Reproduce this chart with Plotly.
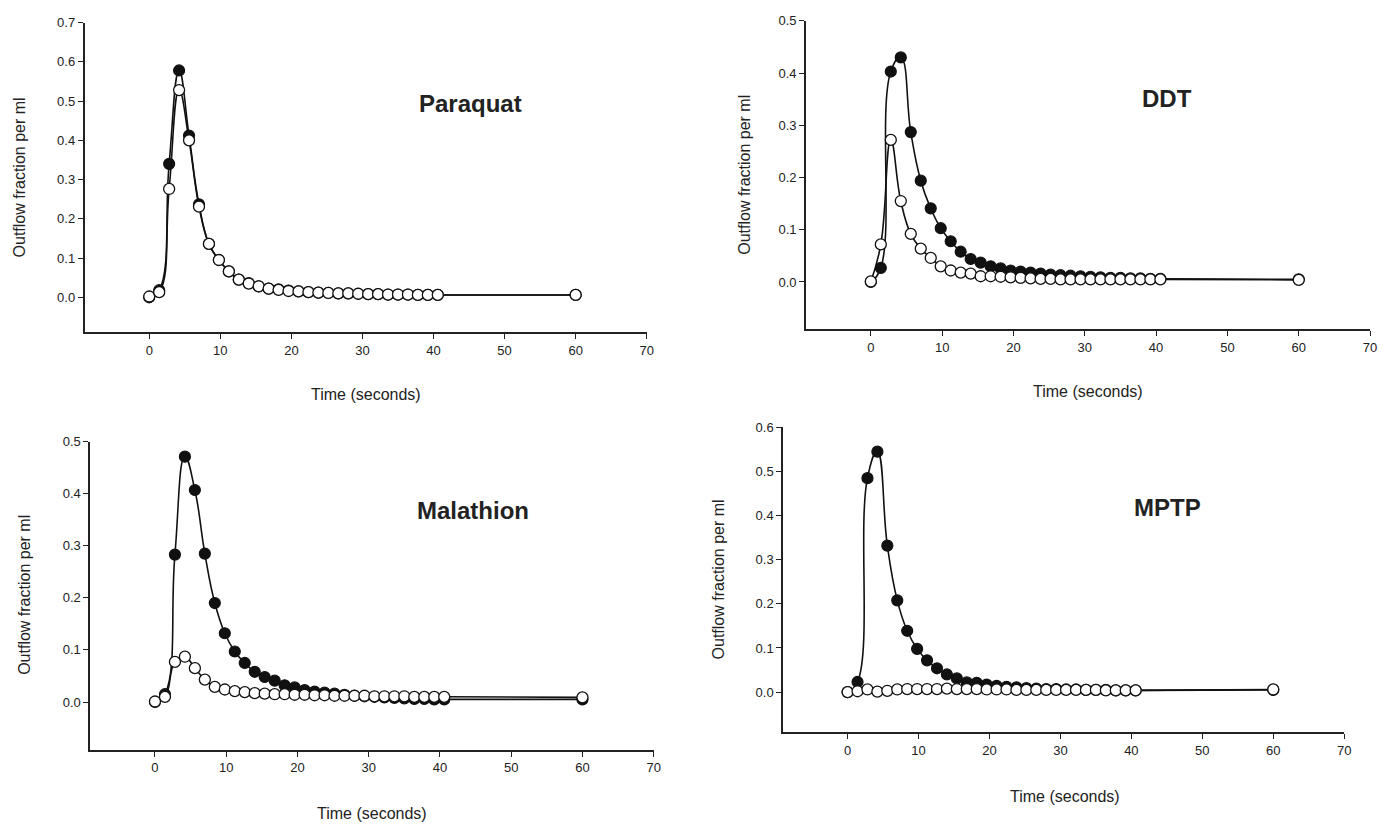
import plotly.graph_objects as go

# ---------------- data ----------------
time_s = [0, 1.4, 2.8, 4.2, 5.6, 7.0, 8.4, 9.8, 11.2, 12.6, 14.0, 15.4, 16.8, 18.2, 19.6,
          21.0, 22.4, 23.8, 25.2, 26.6, 28.0, 29.4, 30.8, 32.2, 33.6, 35.0, 36.4, 37.8,
          39.2, 40.6, 60]

paraquat_filled = [0.0, 0.018, 0.34, 0.578, 0.412, 0.237, 0.136, 0.095, 0.066, 0.045, 0.036,
                   0.028, 0.022, 0.020, 0.017, 0.015, 0.013, 0.012, 0.011, 0.010, 0.010,
                   0.009, 0.008, 0.008, 0.007, 0.007, 0.007, 0.006, 0.006, 0.006, 0.006]
paraquat_open = [0.002, 0.013, 0.276, 0.528, 0.400, 0.231, 0.136, 0.095, 0.066, 0.045, 0.035,
                 0.028, 0.022, 0.019, 0.016, 0.015, 0.013, 0.012, 0.011, 0.010, 0.010,
                 0.009, 0.008, 0.008, 0.007, 0.007, 0.007, 0.006, 0.006, 0.006, 0.006]

ddt_filled = [0.0, 0.027, 0.403, 0.430, 0.287, 0.194, 0.141, 0.103, 0.078, 0.058, 0.044,
              0.037, 0.030, 0.026, 0.022, 0.020, 0.018, 0.016, 0.014, 0.013, 0.012, 0.011,
              0.010, 0.009, 0.008, 0.008, 0.007, 0.007, 0.006, 0.006, 0.005]
ddt_open = [0.001, 0.072, 0.272, 0.155, 0.092, 0.064, 0.046, 0.030, 0.022, 0.018, 0.016,
            0.011, 0.011, 0.010, 0.009, 0.008, 0.007, 0.006, 0.006, 0.005, 0.005, 0.005,
            0.005, 0.005, 0.005, 0.005, 0.005, 0.005, 0.005, 0.005, 0.004]

malathion_filled = [0.0, 0.015, 0.283, 0.471, 0.407, 0.285, 0.190, 0.132, 0.097, 0.075, 0.058,
                    0.048, 0.041, 0.032, 0.028, 0.023, 0.020, 0.018, 0.016, 0.014, 0.012,
                    0.011, 0.010, 0.009, 0.008, 0.007, 0.006, 0.006, 0.005, 0.005, 0.005]
malathion_open = [0.001, 0.010, 0.077, 0.087, 0.065, 0.043, 0.029, 0.024, 0.021, 0.019, 0.017,
                  0.016, 0.015, 0.015, 0.014, 0.014, 0.013, 0.013, 0.012, 0.012, 0.012,
                  0.012, 0.011, 0.011, 0.011, 0.011, 0.010, 0.010, 0.010, 0.010, 0.009]

mptp_filled = [0.0, 0.023, 0.485, 0.545, 0.332, 0.208, 0.139, 0.098, 0.072, 0.054, 0.040,
               0.031, 0.022, 0.021, 0.017, 0.014, 0.012, 0.011, 0.009, 0.008, 0.007,
               0.007, 0.006, 0.006, 0.005, 0.005, 0.005, 0.004, 0.004, 0.004, 0.005]
mptp_open = [0.0, 0.002, 0.006, 0.001, 0.003, 0.006, 0.007, 0.007, 0.007, 0.007, 0.008,
             0.007, 0.007, 0.007, 0.006, 0.006, 0.006, 0.005, 0.005, 0.005, 0.005,
             0.005, 0.005, 0.005, 0.005, 0.005, 0.004, 0.004, 0.004, 0.004, 0.006]

panel_names = ["Paraquat", "DDT", "Malathion", "MPTP"]
panel_filled = [paraquat_filled, ddt_filled, malathion_filled, mptp_filled]
panel_open = [paraquat_open, ddt_open, malathion_open, mptp_open]
panel_ymax = [0.7, 0.5, 0.5, 0.6]
panel_ymin = [-0.089, -0.0905, -0.092, -0.0915]
x_ticks = [0, 10, 20, 30, 40, 50, 60, 70]
x_label = "Time (seconds)"
y_label = "Outflow fraction per ml"

# ---------------- layout geometry (pixels) ----------------
W, H = 1391, 824
boxes = [  # (left, right, top, bottom) in px
    (85, 650, 15.7, 328),
    (810, 1377, 14, 325),
    (90.6, 657, 438.3, 749.3),
    (787, 1351, 424, 731.7),
]
name_pos = [(473, 97), (1173, 92), (475, 508), (1173, 505)]
ytitle_pos = [(20, 172), (748, 169), (25, 593), (722, 577)]
xtitle_pos = [(368, 391), (1094, 388), (374, 813), (1070, 796)]

FONT = "Liberation Sans, Arial, sans-serif"

fig = go.Figure()
layout = dict(
    width=W, height=H,
    margin=dict(l=0, r=0, t=0, b=0),
    paper_bgcolor="white", plot_bgcolor="white",
    showlegend=False,
    font=dict(family=FONT, color="#222"),
)
annotations = []

for i in range(4):
    ax = "" if i == 0 else str(i + 1)
    xref, yref = "x" + ax, "y" + ax
    l, r, t, b = boxes[i]
    layout["xaxis" + ax] = dict(
        domain=[l / W, r / W], anchor=yref, range=[-9.1, 70],
        tickvals=x_ticks, ticks="outside", ticklen=5, tickwidth=1.3, tickcolor="#222",
        showline=True, linecolor="#222", linewidth=1.6, showgrid=False, zeroline=False,
        tickfont=dict(size=13, family=FONT, color="#222"),
    )
    ymax = panel_ymax[i]
    yt = [round(k * 0.1, 1) for k in range(int(round(ymax * 10)) + 1)]
    layout["yaxis" + ax] = dict(
        domain=[1 - b / H, 1 - t / H], anchor=xref, range=[panel_ymin[i], ymax],
        tickvals=yt, tickformat=".1f", ticks="outside", ticklen=5, tickwidth=1.3,
        tickcolor="#222", showline=True, linecolor="#222", linewidth=1.6,
        showgrid=False, zeroline=False,
        tickfont=dict(size=13, family=FONT, color="#222"),
    )
    fig.add_trace(go.Scatter(
        x=time_s, y=panel_filled[i], mode="lines+markers", xaxis=xref, yaxis=yref,
        line=dict(color="#111", width=1.6, shape="spline", smoothing=1.3),
        marker=dict(symbol="circle", size=11, color="#111", line=dict(color="#111", width=1.2)),
        cliponaxis=False,
    ))
    fig.add_trace(go.Scatter(
        x=time_s, y=panel_open[i], mode="lines+markers", xaxis=xref, yaxis=yref,
        line=dict(color="#111", width=1.6, shape="spline", smoothing=1.3),
        marker=dict(symbol="circle", size=11, color="white", line=dict(color="#111", width=1.3)),
        cliponaxis=False,
    ))
    nx, ny = name_pos[i]
    annotations.append(dict(
        text="<b>%s</b>" % panel_names[i], xref="paper", yref="paper",
        x=nx / W, y=1 - ny / H, xanchor="center", yanchor="middle", showarrow=False,
        font=dict(size=24, family=FONT, color="#222"),
    ))
    tx, ty = ytitle_pos[i]
    annotations.append(dict(
        text=y_label, xref="paper", yref="paper", x=tx / W, y=1 - ty / H,
        xanchor="center", yanchor="middle", showarrow=False, textangle=-90,
        font=dict(size=16, family=FONT, color="#222"),
    ))
    sx, sy = xtitle_pos[i]
    annotations.append(dict(
        text=x_label, xref="paper", yref="paper", x=sx / W, y=1 - sy / H,
        xanchor="center", yanchor="middle", showarrow=False,
        font=dict(size=16, family=FONT, color="#222"),
    ))

layout["annotations"] = annotations
fig.update_layout(**layout)
fig.write_html("out.html")
